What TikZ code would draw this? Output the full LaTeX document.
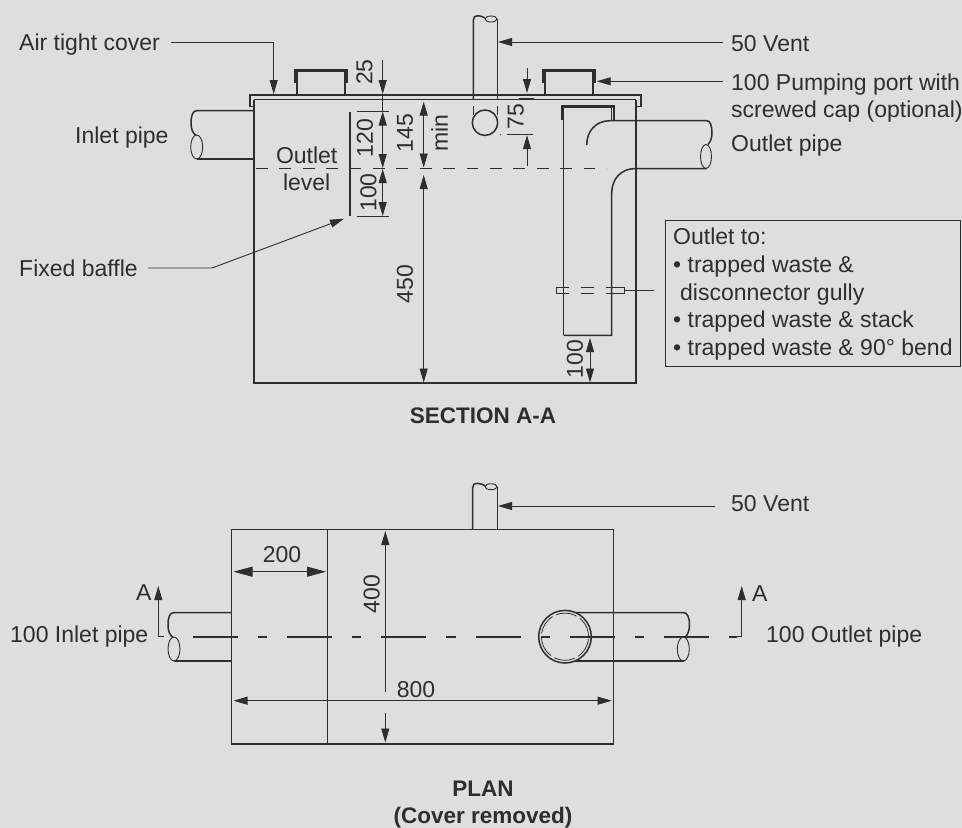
\documentclass[tikz,border=0pt]{standalone}
\usepackage{fontspec}
\setmainfont{Liberation Sans}
\usetikzlibrary{arrows.meta}
\definecolor{ink}{HTML}{2E2E2E}
\definecolor{paper}{HTML}{DEDEDE}
\tikzset{
  x=1pt,y=-1pt,
  main/.style={draw=ink,line width=1.5pt},
  thin line/.style={draw=ink,line width=0.9pt},
  capline/.style={draw=ink,line width=2.8pt,line cap=butt,line join=miter},
  tip/.style={-{Triangle[length=14pt,width=8pt]}},
  tips/.style={{Triangle[length=14pt,width=8pt]}-{Triangle[length=14pt,width=8pt]}},
  bigtips/.style={{Triangle[length=19pt,width=10pt]}-{Triangle[length=19pt,width=10pt]}},
  label/.style={text=ink,font=\fontsize{23}{27}\selectfont,inner sep=0pt,anchor=base west},
  dimtext/.style={text=ink,font=\fontsize{23}{27}\selectfont,inner sep=0pt,anchor=center},
  vdim/.style={dimtext,rotate=90},
  title/.style={text=ink,font=\fontsize{22.5}{27}\selectfont\bfseries,inner sep=0pt,anchor=base},
  level line/.style={thin line,dash pattern=on 11.7pt off 11.7pt},
  centre line/.style={draw=ink,line width=1.7pt,dash pattern=on 45pt off 20pt on 9.3pt off 20pt},
}
\begin{document}
\begin{tikzpicture}
\useasboundingbox[fill=paper] (0,0) rectangle (962,828);

% ---------- SECTION A-A ----------
% tank
\draw[main] (254,99.5) -- (254,383) -- (636,383) -- (636,99.5);
% cover
\draw[main] (254,106.5) -- (250,106.5) -- (250,95) -- (641,95) -- (641,106.5) -- (636,106.5);
\draw[main] (254,99.5) -- (636,99.5);
% pumping ports
\draw[main] (297,95) -- (297,72) (345,95) -- (345,72);
\draw[capline] (295,83) -- (295,70.5) -- (347,70.5) -- (347,83);
\draw[main] (545,95) -- (545,72) (593,95) -- (593,72);
\draw[capline] (543,83) -- (543,70.5) -- (595,70.5) -- (595,83);
% vent
\draw[main] (473.3,99.5) -- (473.3,20) .. controls (473.3,17) and (475,15.7) .. (478,15.7) .. controls (481,15.7) and (483,17) .. (485,18);
\draw[main] (497.3,99.5) -- (497.3,19);
\draw[thin line] (491,19) ellipse [x radius=6pt,y radius=3pt];
\draw[thin line] (473.3,106) -- (473.3,115) (497.3,106) -- (497.3,115);
\draw[main] (485,122.7) circle [radius=12.7pt];
% inlet pipe
\draw[main] (254,110.7) -- (196.7,110.7) .. controls (193,110.7) and (191,115) .. (191,123) .. controls (191,130) and (193,133) .. (196,135.5);
\draw[main] (254,159) -- (196.7,159);
\draw[thin line] (196.7,147) ellipse [x radius=6pt,y radius=12pt];
% outlet pipe
\draw[main] (563.7,335.3) -- (563.7,106);
\draw[main] (611.7,106) -- (611.7,120.7);
\draw[capline] (562,119.5) -- (562,106.3) -- (614,106.3) -- (614,119.5);
\draw[main] (586.7,145) .. controls (586.7,131) and (596,120.7) .. (610,120.7) -- (706.7,120.7) .. controls (710,120.7) and (712,125) .. (712,133) .. controls (712,139) and (710,142) .. (708,144.5);
\draw[main] (706.7,168.5) -- (635.7,168.5) .. controls (621,168.5) and (611.7,179) .. (611.7,193) -- (611.7,335.3) -- (563.7,335.3);
\draw[thin line] (706,156.5) ellipse [x radius=5.5pt,y radius=12pt];
% flange
\draw[thin line] (569.3,287.3) -- (556,287.3) -- (556,293.3) -- (569.3,293.3);
\draw[thin line] (581,287.3) -- (594,287.3) (581,293.3) -- (594,293.3);
\draw[thin line] (606,287.3) -- (624.3,287.3) -- (624.3,293.3) -- (606,293.3);
\coordinate (flangeEnd) at (624.3,290.3);
\coordinate (boxLeader) at (654.3,290.3);
\draw[thin line] (flangeEnd) -- (boxLeader);
% outlet level
\draw[level line] (256,168.5) -- (607,168.5);
% baffle
\draw[draw=ink,line width=1.6pt] (350,111.7) -- (350,216);
% dims
\draw[thin line] (356.7,111) -- (389,111) (356.7,216) -- (389,216);
\draw[thin line,tip] (382.7,60) -- (382.7,94);
\draw[thin line] (382.7,94) -- (382.7,111);
\draw[thin line,tips] (382.7,111.5) -- (382.7,168);
\draw[thin line,tips] (382.7,169) -- (382.7,216);
\draw[thin line,tips] (423.7,101.7) -- (423.7,167.5);
\draw[thin line,tips] (423.7,175) -- (423.7,382.5);
\draw[thin line,tip] (527,68) -- (527,93);
\draw[draw=ink,line width=1.8pt] (518.5,99.3) -- (534,99.3);
\draw[thin line] (506.7,134.7) -- (533,134.7);
\fill[ink] (500.7,134.7) circle [radius=0.6pt];
\draw[thin line,tip] (527,166) -- (527,135.2);
\draw[thin line,tips] (590,338) -- (590,382.5);
% leaders
\coordinate (coverStart) at (171,42);
\coordinate (coverBend) at (273.7,42);
\coordinate (coverTip) at (273.7,94);
\draw[thin line,tip] (coverStart) -- (coverBend) -- (coverTip);
\coordinate (ventStart) at (722.7,42);
\coordinate (ventTip) at (498,42);
\draw[thin line,tip] (ventStart) -- (ventTip);
\coordinate (portStart) at (722.7,81.3);
\coordinate (portTip) at (596.7,81.3);
\draw[thin line,tip] (portStart) -- (portTip);
\coordinate (baffleStart) at (148,268);
\coordinate (baffleBend) at (212,268);
\coordinate (baffleTip) at (344,218.7);
\draw[thin line,tip] (baffleStart) -- (baffleBend) -- (baffleTip);
% outlet box
\node[draw=ink,line width=1.2pt,minimum width=295pt,minimum height=146pt,inner sep=0pt,anchor=north west] (outletBox) at (665,220) {};
% labels
\node[label] (lCover) at (19,50) {Air tight cover};
\node[label] (lInlet) at (75,143) {Inlet pipe};
\node[label] (lBaffle) at (19,276) {Fixed baffle};
\node[label] (lVent) at (731,51) {50 Vent};
\node[label] (lPort) at (731,90.7) {100 Pumping port with};
\node[label] (lPortB) at (731,117.7) {screwed cap (optional)};
\node[label] (lOutlet) at (731,151.7) {Outlet pipe};
\node[label] (b1) at (673,244.3) {Outlet to:};
\node[label] (b2) at (673,272.7) {• trapped waste \&};
\node[label] (b3) at (680,300.7) {disconnector gully};
\node[label] (b4) at (673,327.7) {• trapped waste \& stack};
\node[label] (b5) at (673,355.7) {• trapped waste \& 90° bend};
\node[dimtext] (tOutlet) at (306.7,155) {Outlet};
\node[dimtext] (tLevel) at (306.7,182) {level};
\node[vdim] (d25) at (364.5,72) {25};
\node[vdim] (d120) at (365,138) {120};
\node[vdim] (d100) at (368.5,192.5) {100};
\node[vdim] (d145) at (405,133) {145};
\node[vdim] (dmin) at (439.5,133) {min};
\node[vdim] (d75) at (515.7,116.7) {75};
\node[vdim] (d450) at (405,284) {450};
\node[vdim] (d100b) at (575,359) {100};
\node[title] (tSection) at (483,423.3) {SECTION A-A};

% ---------- PLAN ----------
\draw[main] (231.7,529.7) rectangle (613.3,744);
\draw[main] (327.3,529.7) -- (327.3,744);
% vent
\draw[main] (472.7,529.7) -- (472.7,487.5) .. controls (472.7,484.5) and (474.5,483.3) .. (477,483.3) .. controls (480,483.3) and (483,484.5) .. (485,485.8);
\draw[main] (497.3,529.7) -- (497.3,486.5);
\draw[thin line] (491,486.7) ellipse [x radius=6pt,y radius=3pt];
% inlet
\draw[main] (231.7,612.7) -- (173.3,612.7) .. controls (170,612.7) and (168,617) .. (168,625) .. controls (168,632) and (170,635) .. (173,637.5);
\draw[main] (231.7,661) -- (174,661);
\draw[thin line] (174,649) ellipse [x radius=6pt,y radius=12pt];
% outlet
\draw[main] (575,612.7) -- (684,612.7) .. controls (687,612.7) and (689.5,617) .. (689.5,625) .. controls (689.5,632) and (687,635) .. (685,637.5);
\draw[main] (575,661) -- (684,661);
\draw[thin line] (683.3,649) ellipse [x radius=6pt,y radius=12pt];
% riser
\draw[main,fill=paper] (565,636.7) circle [radius=26.3pt];
\draw[draw=ink,line width=0.8pt,dash pattern=on 21pt off 4pt] (565,636.7) circle [radius=23.6pt];
% centre line
\draw[centre line] (192.7,636.7) -- (737,636.7);
% dims
\draw[thin line,bigtips] (233.5,571.7) -- (326,571.7);
\coordinate (dimPlanTop) at (385.3,531);
\coordinate (dimPlanMid) at (385.3,691.7);
\coordinate (dimPlanLow) at (385.3,713.3);
\coordinate (dimPlanBot) at (385.3,742.5);
\draw[thin line,tip] (dimPlanMid) -- (dimPlanTop);
\draw[thin line,tip] (dimPlanLow) -- (dimPlanBot);
\draw[thin line,tips] (233.5,700.7) -- (611.7,700.7);
% section markers
\draw[thin line,tip] (164,636.7) -- (158.3,636.7) -- (158.3,586);
\draw[thin line,tip] (736,636.7) -- (741.7,636.7) -- (741.7,586);
\coordinate (ventPlanStart) at (715,506);
\coordinate (ventPlanTip) at (498,506);
\draw[thin line,tip] (ventPlanStart) -- (ventPlanTip);
% labels
\node[label] (lVentP) at (731,511.7) {50 Vent};
\node[label] (lInP) at (10,642.7) {100 Inlet pipe};
\node[label] (lOutP) at (766,642.7) {100 Outlet pipe};
\node[label] (aL) at (136,600.7) {A};
\node[label] (aR) at (752,601) {A};
\node[dimtext] (d200) at (282,555) {200};
\node[vdim] (d400) at (371.7,594) {400};
\node[dimtext] (d800) at (416,690) {800};
\node[title] (tPlan) at (483,796.7) {PLAN};
\node[title] (tCover) at (483,823) {(Cover removed)};
\end{tikzpicture}
\end{document}
